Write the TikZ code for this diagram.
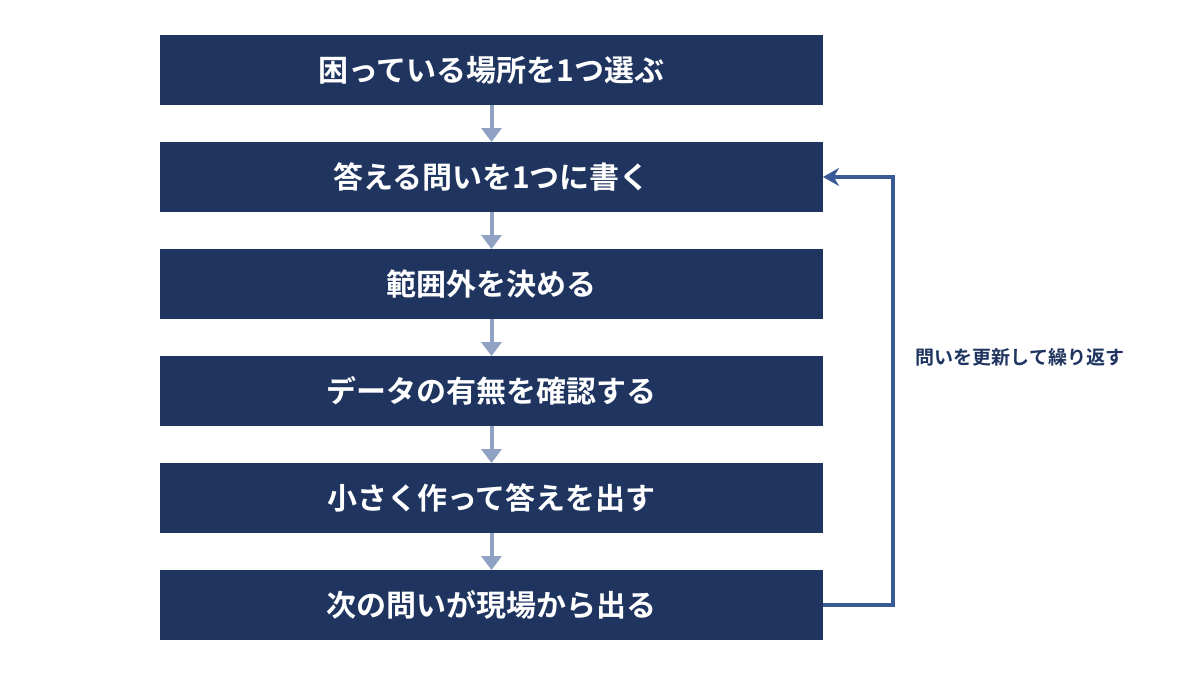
\documentclass[tikz,border=0pt]{standalone}
\usepackage{fontspec}
\newfontfamily\cjk{Noto Sans CJK JP}[BoldFont={Noto Sans CJK JP Bold}]
\usetikzlibrary{arrows.meta,positioning}
\definecolor{boxblue}{HTML}{1F3560}
\definecolor{stepgray}{HTML}{8FA2C3}
\definecolor{loopblue}{HTML}{3A5A96}
\tikzstyle{stepbox} = [fill=boxblue, rectangle, minimum height=35pt, minimum width=331.5pt, outer sep=0pt, text=white, font=\cjk\bfseries\fontsize{15}{18}\selectfont]
\tikzstyle{nextarrow} = [draw=stepgray, line width=2pt, -{Triangle[length=7pt,width=10pt]}]
\tikzstyle{loopline} = [draw=loopblue, line width=1.6pt, -{Stealth[length=8pt,width=9pt]}]

\begin{document}
\begin{tikzpicture}[x=0.5pt, y=-0.5pt]
    \useasboundingbox (0,0) rectangle (1200,675);
    % steps
    \node [stepbox] (s1) at (491.5,70) {困っている場所を1つ選ぶ};
    \node [stepbox, below=18.5pt of s1] (s2) {答える問いを1つに書く};
    \node [stepbox, below=18.5pt of s2] (s3) {範囲外を決める};
    \node [stepbox, below=18.5pt of s3] (s4) {データの有無を確認する};
    \node [stepbox, below=18.5pt of s4] (s5) {小さく作って答えを出す};
    \node [stepbox, below=18.5pt of s5] (s6) {次の問いが現場から出る};
    % arrows between steps
    \foreach \a/\b in {s1/s2, s2/s3, s3/s4, s4/s5, s5/s6}
        \path [nextarrow] (\a) -- (\b);
    % loop back
    \coordinate (turn) at (893,0);
    \path [loopline] (s6.east) -| (turn |- s2.east) -- (s2.east);
    \node [font=\cjk\bfseries\fontsize{9.5}{11}\selectfont, text=boxblue] (looplabel) at (1020,357) {問いを更新して繰り返す};
\end{tikzpicture}
\end{document}
